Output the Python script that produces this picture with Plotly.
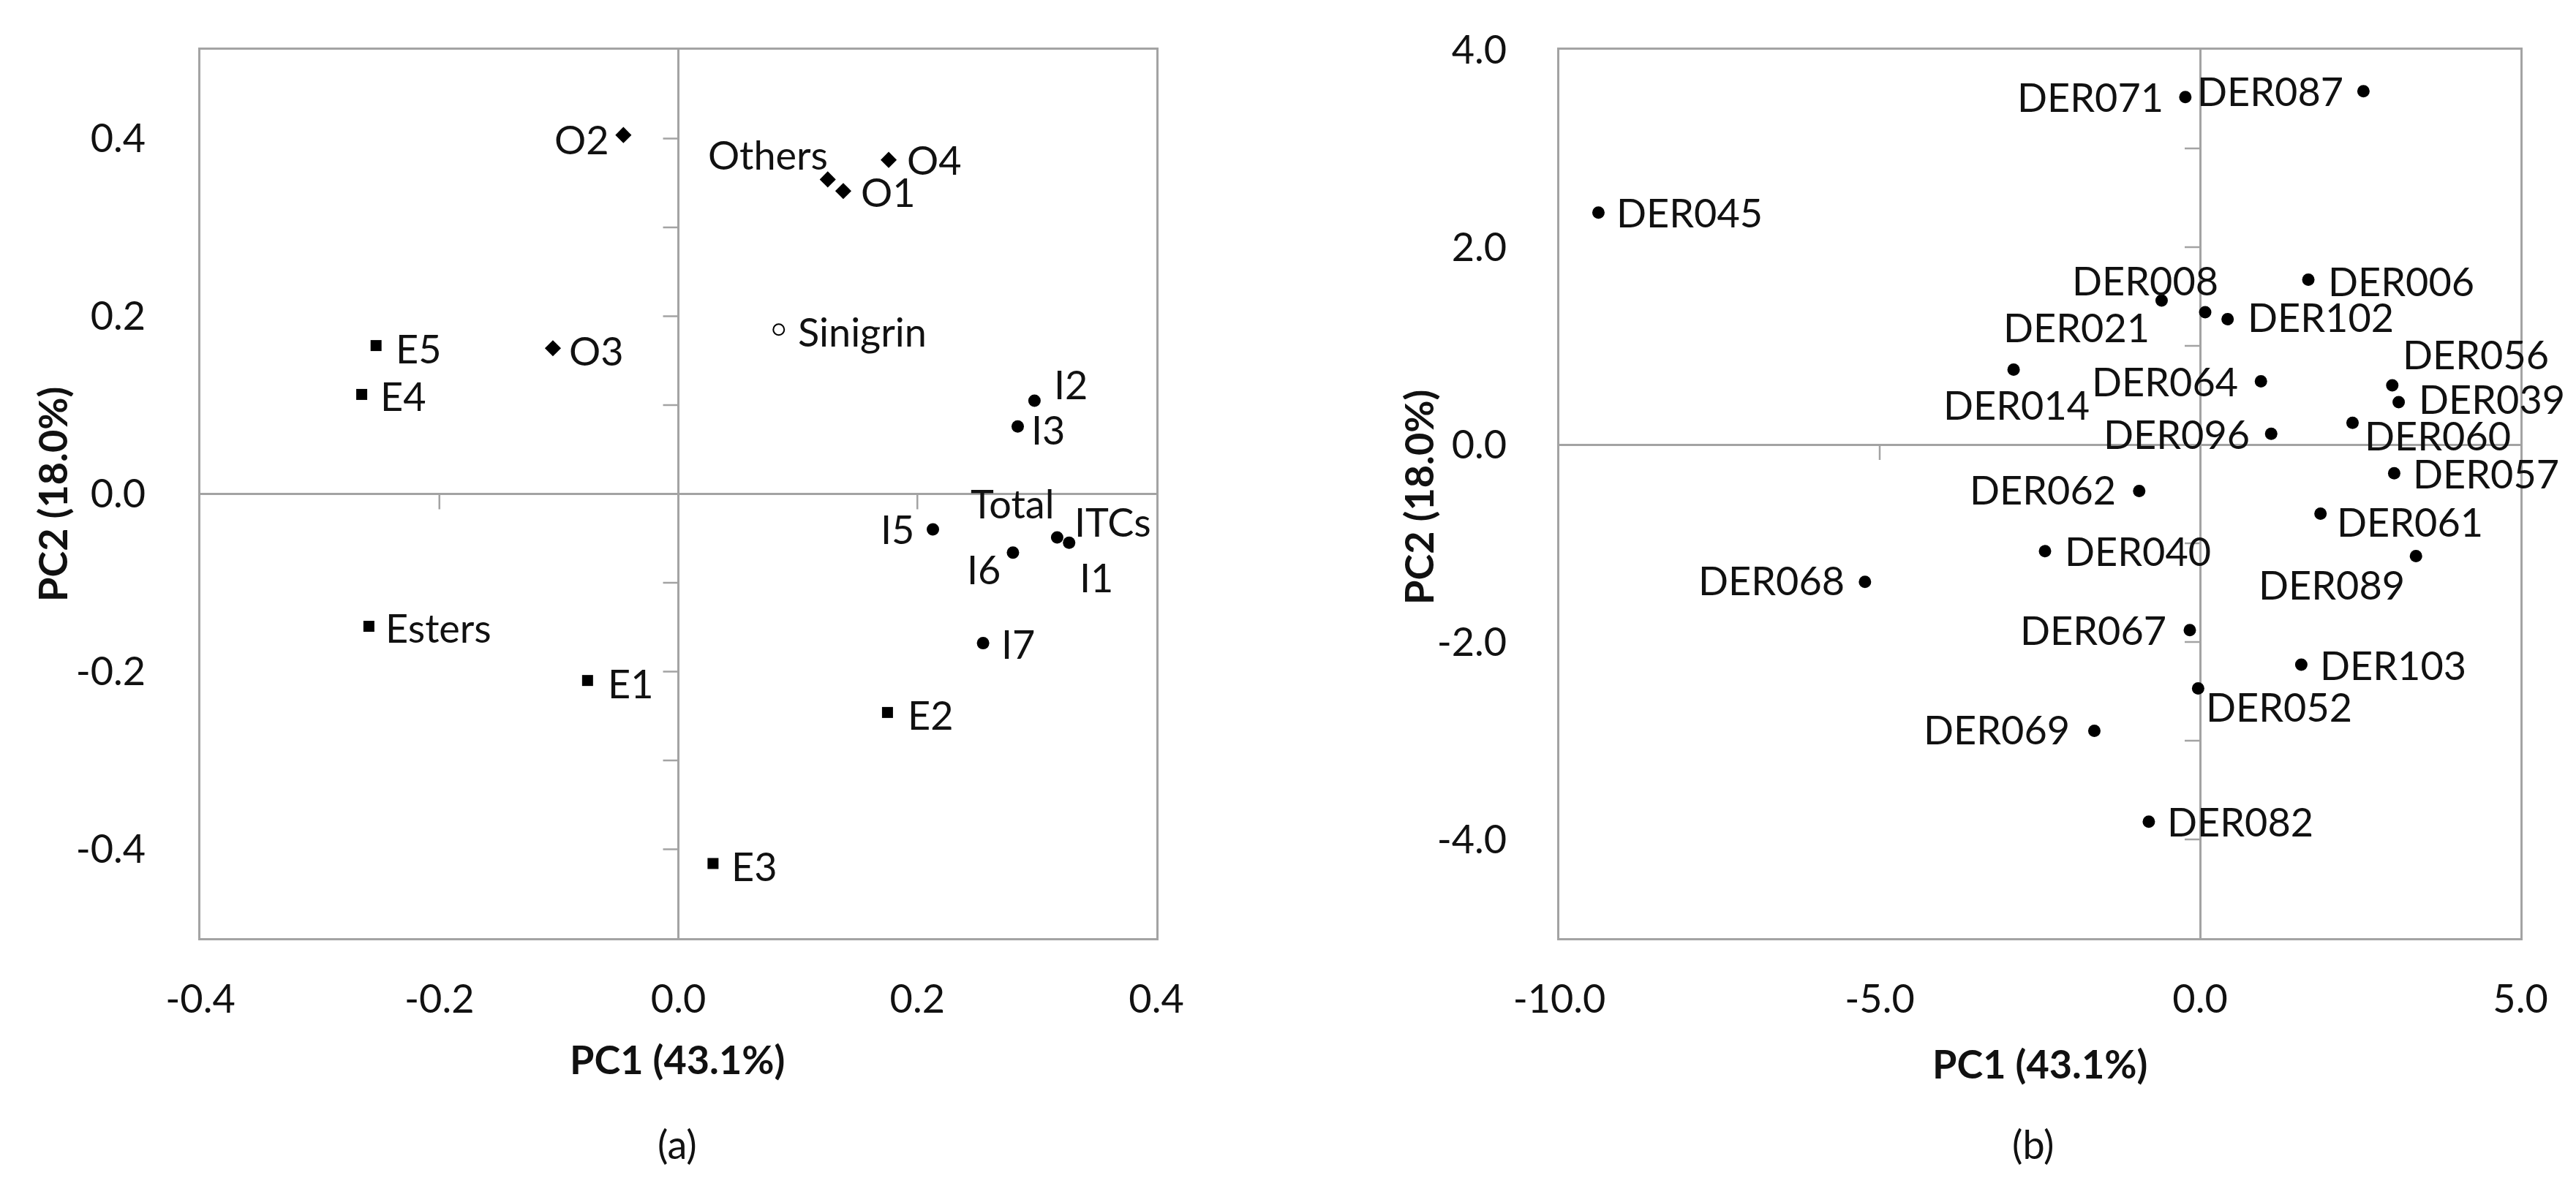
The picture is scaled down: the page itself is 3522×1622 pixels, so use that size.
import plotly.graph_objects as go

# ---- data: panel (a) loadings ----
a_others_lab = ["O2", "Others", "O1", "O4", "O3"]
a_others_x = [-0.046, 0.125, 0.138, 0.176, -0.105]
a_others_y = [0.404, 0.354, 0.341, 0.376, 0.164]

a_esters_lab = ["E5", "E4", "Esters", "E1", "E2", "E3"]
a_esters_x = [-0.253, -0.265, -0.259, -0.076, 0.175, 0.029]
a_esters_y = [0.167, 0.112, -0.149, -0.210, -0.246, -0.416]

a_itc_lab = ["I2", "I3", "I5", "Total ITCs", "I1", "I6", "I7"]
a_itc_x = [0.298, 0.284, 0.213, 0.317, 0.327, 0.280, 0.255]
a_itc_y = [0.105, 0.076, -0.040, -0.049, -0.055, -0.066, -0.168]

a_sin_lab = ["Sinigrin"]
a_sin_x = [0.084]
a_sin_y = [0.185]

# ---- data: panel (b) scores ----
b_lab = ["DER071", "DER087", "DER045", "DER006", "DER008", "DER021", "DER102",
         "DER014", "DER064", "DER056", "DER039", "DER060", "DER096", "DER057",
         "DER062", "DER061", "DER040", "DER089", "DER068", "DER067", "DER103",
         "DER052", "DER069", "DER082"]
b_x = [-0.23, 2.55, -9.39, 1.69, -0.60, 0.08, 0.43,
       -2.91, 0.95, 3.00, 3.10, 2.38, 1.11, 3.03,
       -0.95, 1.88, -2.42, 3.37, -5.23, -0.16, 1.58,
       -0.03, -1.65, -0.80]
b_y = [3.52, 3.58, 2.35, 1.67, 1.46, 1.34, 1.27,
       0.76, 0.64, 0.60, 0.43, 0.22, 0.11, -0.29,
       -0.47, -0.70, -1.08, -1.13, -1.39, -1.88, -2.23,
       -2.47, -2.90, -3.82]

# ---- axes ----
a_xticks = [-0.4, -0.2, 0.0, 0.2, 0.4]
a_yticks = [-0.4, -0.2, 0.0, 0.2, 0.4]
b_xticks = [-10.0, -5.0, 0.0, 5.0]
b_yticks = [-4.0, -2.0, 0.0, 2.0, 4.0]
a_xmarks = [-0.2, 0.2]
a_ymarks = [-0.4, -0.3, -0.2, -0.1, 0.1, 0.2, 0.3, 0.4]
b_xmarks = [-5.0]
b_ymarks = [-4.0, -3.0, -2.0, -1.0, 1.0, 2.0, 3.0]
x_title = "PC1 (43.1%)"
y_title = "PC2 (18.0%)"

# ---- label placement (anchor side, dx px, dy px) ----
R, L = "left", "right"
pos_a = {
    "O2": [(L, -17, -6)], "Others": [(L, 2, 34)], "O1": [(R, 22, -1)],
    "O4": [(R, 23, 0)], "O3": [(R, 20, -3)], "Sinigrin": [(R, 24, -3)],
    "E5": [(R, 25, -4)], "E4": [(R, 23, -2)], "Esters": [(R, 21, -2)],
    "E1": [(R, 26, -4)], "E2": [(R, 26, -3)], "E3": [(R, 23, -4)],
    "I2": [(R, 25, 22)], "I3": [(R, 17, -4)], "I5": [(L, -23, 1)],
    "Total ITCs": [(L, -2, 47), (R, 22, 22)], "I1": [(R, 12, -47)],
    "I6": [(L, -15, -23)], "I7": [(R, 23, -1)],
}
pos_b = {
    "DER071": (L, -28, 0), "DER087": (L, -25, 0), "DER045": (R, 23, 0),
    "DER006": (R, 25, -2), "DER008": ("center", -22, 27), "DER021": (L, -74, -20),
    "DER102": (R, 25, 3), "DER014": ("center", 4, -48), "DER064": (L, -29, 0),
    "DER056": (R, 12, 43), "DER039": (R, 25, 4), "DER060": (R, 15, -17),
    "DER096": (L, -27, 0), "DER057": (R, 24, 0), "DER062": (L, -30, 2),
    "DER061": (R, 20, -11), "DER040": (R, 25, 0), "DER089": (L, -13, -39),
    "DER068": (L, -26, 2), "DER067": (L, -30, 0), "DER103": (R, 24, 0),
    "DER052": (R, 9, -25), "DER069": (L, -31, 2), "DER082": (R, 23, 0),
}

W, H = 3522, 1622
FONT = "Lato, 'Open Sans', sans-serif"
FS = 54
GRAY = "#A3A3A3"
INK = "#111111"


def px(xp, yp):
    return xp / W, 1 - yp / H


fig = go.Figure()

groups_a = [
    (a_others_x, a_others_y, a_others_lab, dict(symbol="diamond", size=17, color="black")),
    (a_esters_x, a_esters_y, a_esters_lab, dict(symbol="square", size=15, color="black")),
    (a_itc_x, a_itc_y, a_itc_lab, dict(symbol="circle", size=17, color="black")),
    (a_sin_x, a_sin_y, a_sin_lab, dict(symbol="circle-open", size=15, color="black",
                                       line=dict(width=2))),
]
for gx, gy, gl, mk in groups_a:
    fig.add_trace(go.Scatter(x=gx, y=gy, text=gl, mode="markers", marker=mk,
                             xaxis="x", yaxis="y", showlegend=False,
                             hovertemplate="%{text}: %{x}, %{y}<extra></extra>"))

fig.add_trace(go.Scatter(x=b_x, y=b_y, text=b_lab, mode="markers",
                         marker=dict(symbol="circle", size=17, color="black"),
                         xaxis="x2", yaxis="y2", showlegend=False,
                         hovertemplate="%{text}: %{x}, %{y}<extra></extra>"))

annotations = []


def add_label(xv, yv, text, side, dx, dy, xr, yr):
    annotations.append(dict(x=xv, y=yv, xref=xr, yref=yr, text=text, showarrow=False,
                            xanchor=side, yanchor="middle", xshift=dx, yshift=dy,
                            font=dict(family=FONT, size=FS, color=INK)))


for gx, gy, gl, _ in groups_a:
    for xv, yv, lab in zip(gx, gy, gl):
        spec = pos_a[lab]
        parts = lab.split(" ") if len(spec) > 1 else [lab]
        for part, (side, dx, dy) in zip(parts, spec):
            add_label(xv, yv, part, side, dx, dy, "x", "y")

for xv, yv, lab in zip(b_x, b_y, b_lab):
    side, dx, dy = pos_b[lab]
    add_label(xv, yv, lab, side, dx, dy, "x2", "y2")

# axis titles and panel captions
for (cx, cy), txt, ang in [
    ((918, 1440), "<b>" + x_title + "</b>", 0),
    ((2781, 1446), "<b>" + x_title + "</b>", 0),
    ((63, 668), "<b>" + y_title + "</b>", -90),
    ((1931, 672), "<b>" + y_title + "</b>", -90),
    ((918, 1556), "(a)", 0),
    ((2772, 1556), "(b)", 0),
]:
    xp, yp = px(cx, cy)
    annotations.append(dict(x=xp, y=yp, xref="paper", yref="paper", text=txt,
                            showarrow=False, xanchor="center", yanchor="middle",
                            textangle=ang, font=dict(family=FONT, size=FS, color=INK)))

# small tick marks on the zero axes
shapes = []
for xr, yr, xm, ym in [("x", "y", a_xmarks, a_ymarks), ("x2", "y2", b_xmarks, b_ymarks)]:
    for v in ym:
        shapes.append(dict(type="line", xref=xr, yref=yr, xsizemode="pixel", xanchor=0,
                           x0=-21, x1=0, y0=v, y1=v, line=dict(color=GRAY, width=2.5)))
    for v in xm:
        shapes.append(dict(type="line", xref=xr, yref=yr, ysizemode="pixel", yanchor=0,
                           y0=0, y1=-21, x0=v, x1=v, line=dict(color=GRAY, width=2.5)))


def axis(dom, rng, ticks, standoff, anchor):
    return dict(domain=dom, range=rng, tickvals=ticks, ticktext=[f"{t:.1f}" for t in ticks],
                showgrid=False, showline=True, mirror=True, linecolor=GRAY, linewidth=3,
                zeroline=True, zerolinecolor=GRAY, zerolinewidth=2.5, ticks="",
                ticklabelstandoff=standoff, anchor=anchor, automargin=False,
                tickfont=dict(family=FONT, size=FS, color=INK), fixedrange=True)


y_dom = [1 - 1275 / H, 1 - 60 / H]
fig.update_layout(
    width=W, height=H,
    margin=dict(l=0, r=0, t=0, b=0, autoexpand=False),
    paper_bgcolor="white", plot_bgcolor="white",
    xaxis=axis([266 / W, 1573 / W], [-0.4, 0.4], a_xticks, 34, "y"),
    yaxis=axis(y_dom, [-0.5, 0.5], a_yticks, 61, "x"),
    xaxis2=axis([2124 / W, 3438 / W], [-10, 5], b_xticks, 34, "y2"),
    yaxis2=axis(y_dom, [-5, 4], b_yticks, 58, "x2"),
    annotations=annotations,
    shapes=shapes,
)

fig.write_html("out.html")
